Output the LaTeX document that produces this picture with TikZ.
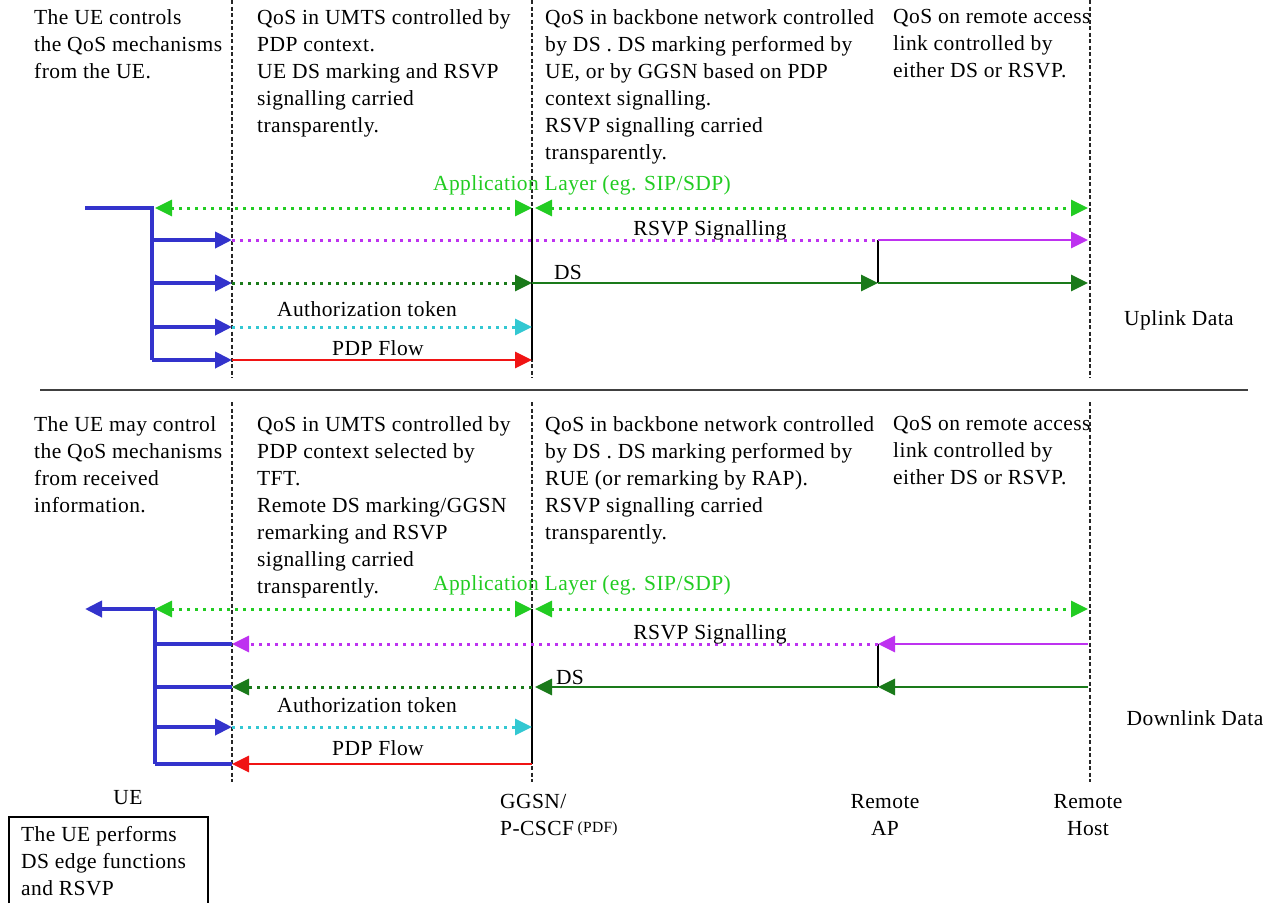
\documentclass[tikz,border=0pt]{standalone}
\usepackage{xcolor}
\usepackage{fontspec}
\setmainfont{Liberation Serif}[LetterSpace=2]
\usetikzlibrary{arrows.meta, positioning}

\definecolor{ueblue}{RGB}{51,51,204}
\definecolor{appgreen}{RGB}{34,204,34}
\definecolor{dsgreen}{RGB}{26,122,26}
\definecolor{rsvpmag}{RGB}{190,50,240}
\definecolor{tokcyan}{RGB}{51,200,210}
\definecolor{pdpred}{RGB}{240,20,20}

\begin{document}
\begin{tikzpicture}[x=1pt, y=-1pt,
        font=\fontsize{21.5}{27}\selectfont,
        txt/.style={anchor=north west, align=left, inner sep=0pt},
        lbl/.style={inner sep=0pt},
        guide/.style={line width=1.2pt, black!85, dash pattern=on 4pt off 2.5pt},
        tip/.style={-{Triangle[length=17pt,width=16pt]}},
        tipb/.style={{Triangle[length=17pt,width=16pt]}-{Triangle[length=17pt,width=16pt]}},
        ueln/.style={ueblue, line width=4pt},
        dotln/.style={line width=3pt, dash pattern=on 3pt off 5pt},
        solln/.style={line width=2.8pt},
        bar/.style={line width=2.8pt, black}
    ]
        \useasboundingbox (0,0) rectangle (1284,903);

        % Texts of the columns (uplink)
        \node[txt] (c1u) at (34,9) {The UE controls\\the QoS mechanisms\\from the UE.};
        \node[txt] (c2u) at (257,9) {QoS in UMTS controlled by\\PDP context.\\UE DS marking and RSVP\\signalling carried\\transparently.};
        \node[txt] (c3u) at (545,9) {QoS in backbone network controlled\\by DS . DS marking performed by\\UE, or by GGSN based on PDP\\context signalling.\\RSVP signalling carried\\transparently.};
        \node[txt] (c4u) at (893,9) {QoS on remote access\\link controlled by\\either DS or RSVP.};

        % Texts of the columns (downlink)
        \node[txt] (c1d) at (34,416) {The UE may control\\the QoS mechanisms\\from received\\information.};
        \node[txt] (c2d) at (257,416) {QoS in UMTS controlled by\\PDP context selected by\\TFT.\\Remote DS marking/GGSN\\remarking and RSVP\\signalling carried\\transparently.};
        \node[txt] (c3d) at (545,416) {QoS in backbone network controlled\\by DS . DS marking performed by\\RUE (or remarking by RAP).\\RSVP signalling carried\\transparently.};
        \node[txt] (c4d) at (893,416) {QoS on remote access\\link controlled by\\either DS or RSVP.};

        % Boundaries
        \foreach \gx in {232,532,1090} {
            \draw[guide] (\gx,0) -- (\gx,378);
            \draw[guide] (\gx,402) -- (\gx,782);
        }
        \draw[line width=1.5pt, black!75] (40,390) -- (1248,390);

        % Points (uplink)
        \coordinate (ueU) at (85,208);
        \coordinate (ueJu) at (152,208);
        \coordinate (uApp0) at (155,208);
        \coordinate (uApp1) at (532,208);
        \coordinate (uApp2) at (535,208);
        \coordinate (uApp3) at (1088,208);
        \coordinate (uRsvpA) at (232,240);
        \coordinate (uRsvpB) at (878,240);
        \coordinate (uRsvpC) at (1088,240);
        \coordinate (uDsA) at (232,283);
        \coordinate (uDsB) at (532,283);
        \coordinate (uDsC) at (878,283);
        \coordinate (uDsD) at (1088,283);
        \coordinate (uTokA) at (232,327);
        \coordinate (uTokB) at (532,327);
        \coordinate (uPdpA) at (232,360);
        \coordinate (uPdpB) at (532,360);

        % Points (downlink)
        \coordinate (ueD) at (85,609);
        \coordinate (ueJd) at (155,609);
        \coordinate (dApp0) at (155,609);
        \coordinate (dApp1) at (532,609);
        \coordinate (dApp2) at (535,609);
        \coordinate (dApp3) at (1088,609);
        \coordinate (dRsvpA) at (232,644);
        \coordinate (dRsvpB) at (878,644);
        \coordinate (dRsvpC) at (1088,644);
        \coordinate (dDsA) at (232,687);
        \coordinate (dDsB) at (532,687);
        \coordinate (dDsB2) at (535,687);
        \coordinate (dDsC) at (878,687);
        \coordinate (dDsD) at (1088,687);
        \coordinate (dTokA) at (232,727);
        \coordinate (dTokB) at (532,727);
        \coordinate (dPdpA) at (232,764);
        \coordinate (dPdpB) at (532,764);

        % UE lines
        \draw[ueln] (ueU) -- (ueJu) -- (ueJu |- uPdpA);
        \foreach \r in {Rsvp,Ds,Tok,Pdp}
            \draw[ueln, tip] (ueJu |- u\r A) -- (u\r A);
        \draw[ueln, tip] (ueJd) -- (ueD);
        \draw[ueln] (ueJd) -- (ueJd |- dPdpA);
        \foreach \r in {Rsvp,Ds,Pdp}
            \draw[ueln] (ueJd |- d\r A) -- (d\r A);
        \draw[ueln, tip] (ueJd |- dTokA) -- (dTokA);

        % Bars
        \draw[bar] (uApp1) -- (uPdpB);
        \draw[bar] (uRsvpB) -- (uDsC);
        \draw[bar] (dApp1) -- (dPdpB);
        \draw[bar] (dRsvpB) -- (dDsC);

        % Flows (uplink)
        \draw[appgreen, dotln, tipb] (uApp0) -- (uApp1);
        \draw[appgreen, dotln, tipb] (uApp2) -- (uApp3);
        \draw[rsvpmag, dotln] (uRsvpA) -- (uRsvpB);
        \draw[rsvpmag, solln, tip] (uRsvpB) -- (uRsvpC);
        \draw[dsgreen, dotln, tip] (uDsA) -- (uDsB);
        \draw[dsgreen, solln, tip] (uDsB) -- (uDsC);
        \draw[dsgreen, solln, tip] (uDsC) -- (uDsD);
        \draw[tokcyan, dotln, tip] (uTokA) -- (uTokB);
        \draw[pdpred, solln, tip] (uPdpA) -- (uPdpB);

        % Flows (downlink)
        \draw[appgreen, dotln, tipb] (dApp0) -- (dApp1);
        \draw[appgreen, dotln, tipb] (dApp2) -- (dApp3);
        \draw[rsvpmag, solln, tip] (dRsvpC) -- (dRsvpB);
        \draw[rsvpmag, dotln, tip] (dRsvpB) -- (dRsvpA);
        \draw[dsgreen, solln, tip] (dDsD) -- (dDsC);
        \draw[dsgreen, solln, tip] (dDsC) -- (dDsB2);
        \draw[dsgreen, dotln, tip] (dDsB) -- (dDsA);
        \draw[tokcyan, dotln, tip] (dTokA) -- (dTokB);
        \draw[pdpred, solln, tip] (dPdpB) -- (dPdpA);

        % Labels
        \node[lbl, appgreen] (appu) at (582,185) {Application Layer (eg. SIP/SDP)};
        \node[lbl] (rsvpu) at (710,230) {RSVP Signalling};
        \node[lbl] (dsu) at (568,272) {DS};
        \node[lbl] (toku) at (367,309) {Authorization token};
        \node[lbl] (pdpu) at (378,348) {PDP Flow};
        \node[lbl] (upl) at (1179,320) {Uplink Data};
        \node[lbl, appgreen] (appd) at (582,585) {Application Layer (eg. SIP/SDP)};
        \node[lbl] (rsvpd) at (710,634) {RSVP Signalling};
        \node[lbl] (dsd) at (570,677) {DS};
        \node[lbl] (tokd) at (367,705) {Authorization token};
        \node[lbl] (pdpd) at (378,748) {PDP Flow};
        \node[lbl] (dnl) at (1195,718) {Downlink Data};

        % Entities
        \node[lbl] (ue) at (128,798) {UE};
        \node[txt] (uebox) at (21,826) {The UE performs\\DS edge functions\\and RSVP};
        \draw[line width=1.3pt] (9,903) |- (208,817) -- (208,903);
        \node[txt] (ggsn) at (500,794) {GGSN/\\P-CSCF\,\raisebox{3pt}{\fontsize{15.5}{15.5}\selectfont(PDF)}};
        \node[lbl, align=center, anchor=north] (rap) at (885,794) {Remote\\AP};
        \node[lbl, align=center, anchor=north] (rhost) at (1088,794) {Remote\\Host};
    \end{tikzpicture}
\end{document}
